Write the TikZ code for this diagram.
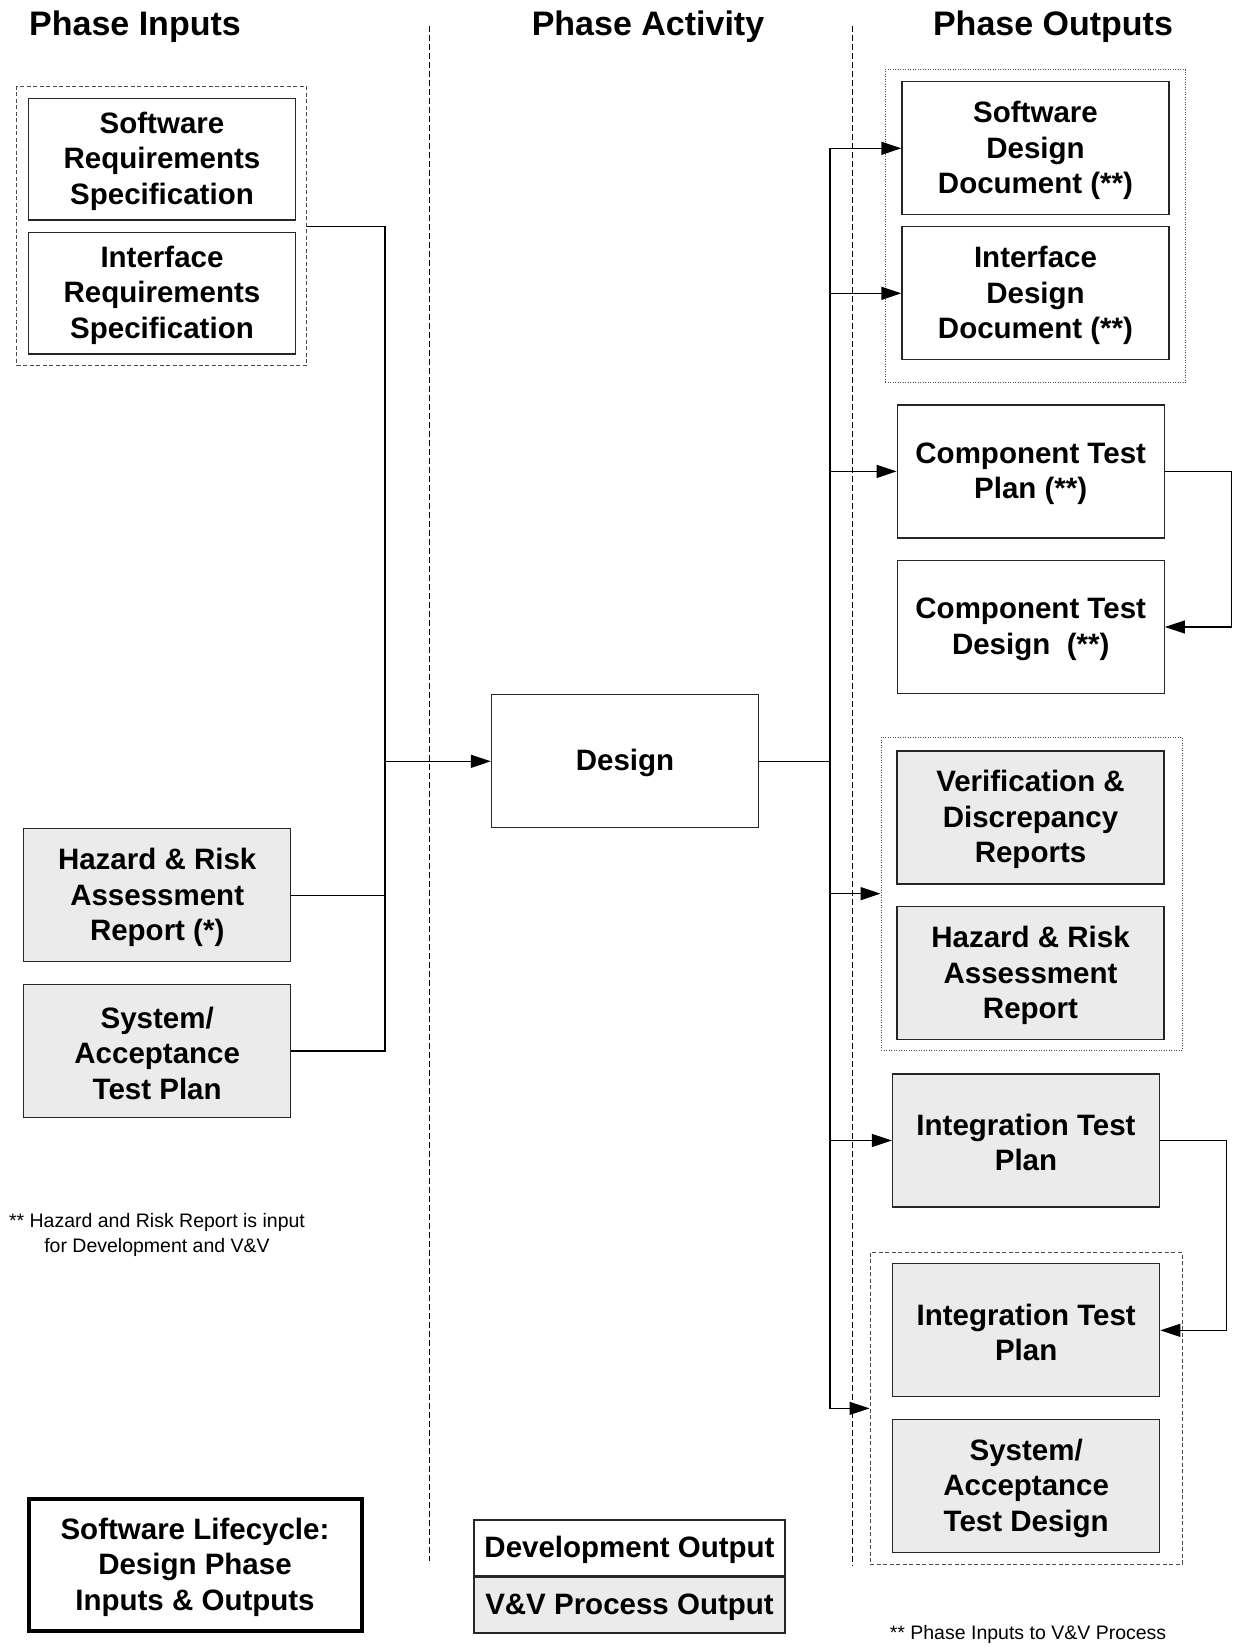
\documentclass[tikz,border=0pt]{standalone}
\usepackage{fontspec}
\setmainfont{Liberation Sans}
\usetikzlibrary{arrows.meta,positioning}

% strut that sets the height of the first text line in every box
\newcommand{\topline}{\rule{0pt}{25.6pt}}

\tikzset{
  boxtext/.style={font=\bfseries\fontsize{29.5}{35.5}\selectfont, align=center},
  devbox/.style={boxtext, draw=black!85, line width=1.3pt, inner sep=0pt,
                 minimum width=267pt, minimum height=133pt},
  vvbox/.style={devbox, fill=black!8},
  grpdash/.style={draw=black!70, line width=1pt, dash pattern=on 4pt off 2.5pt},
  grpdot/.style={draw=black!70, line width=1pt, dash pattern=on 1pt off 1.5pt},
  divider/.style={draw=black, line width=1pt, dash pattern=on 6pt off 3pt},
  conn/.style={draw=black, line width=1.3pt},
  arr/.style={conn, -{Triangle[length=20pt,width=13pt]}},
  header/.style={font=\bfseries\fontsize{34}{40}\selectfont, anchor=base},
  note/.style={font=\fontsize{19.5}{25}\selectfont, align=center}
}

\begin{document}
\begin{tikzpicture}[x=1pt,y=-1pt]
\useasboundingbox[fill=white] (0,0) rectangle (1233,1648);

% column headers
\node[header] (hin)  at (135,35.5) {Phase Inputs};
\node[header] (hact) at (648,35.5) {Phase Activity};
\node[header] (hout) at (1053,35.5) {Phase Outputs};

% column dividers
\draw[divider] (429,26) -- (429,1561);
\draw[divider] (852,26) -- (852,1566);

% ---- inputs ----
\node[devbox, minimum height=121.7pt] (srs) at (162,159.2) {\topline Software\\Requirements\\Specification};
\node[devbox, minimum height=121.7pt] (irs) at (162,293.2) {\topline Interface\\Requirements\\Specification};
\node[grpdash, minimum width=290pt, minimum height=279pt, inner sep=0pt] (lgrp) at (161.7,226.2) {};
\node[vvbox] (hzin) at (157.2,895.3) {\topline Hazard \& Risk\\Assessment\\Report (*)};
\node[vvbox] (satin) at (157.2,1051) {\topline System/\\Acceptance\\Test Plan};

\node[note] (fnl) at (157,1234.5) {** Hazard and Risk Report is input\\for Development and V\&V};

% ---- activity ----
\node[devbox] (design) at (625,761.3) {\topline Design};

% ---- outputs ----
\node[devbox] (sdd) at (1035.5,148.3) {\topline Software\\Design\\Document (**)};
\node[devbox] (idd) at (1035.5,293.3) {\topline Interface\\Design\\Document (**)};
\node[grpdot, minimum width=300.7pt, minimum height=312.3pt, inner sep=0pt] (ogrp1) at (1035.35,226.15) {};

\node[devbox] (ctp) at (1030.7,471.4) {\topline Component Test\\Plan (**)};
\node[devbox] (ctd) at (1030.7,627) {\topline Component Test\\Design~~(**)};

\node[vvbox] (vdr) at (1030.5,817.5) {\topline Verification \&\\Discrepancy\\Reports};
\node[vvbox] (hzout) at (1030.5,973.3) {\topline Hazard \& Risk\\Assessment\\Report};
\node[grpdot, minimum width=301.3pt, minimum height=312.7pt, inner sep=0pt] (ogrp2) at (1031.65,893.65) {};

\node[vvbox] (itp) at (1026,1140.5) {\topline Integration Test\\Plan};
\node[vvbox] (itpb) at (1026.2,1330.3) {\topline Integration Test\\Plan};
\node[vvbox] (satd) at (1026.2,1486.3) {\topline System/\\Acceptance\\Test Design};
\node[grpdash, minimum width=312.3pt, minimum height=311.3pt, inner sep=0pt] (ogrp3) at (1026.15,1408.35) {};

\node[note] (fnr) at (1028,1634) {** Phase Inputs to V\&V Process};

% ---- title and legend ----
\node[boxtext, draw=black, line width=4pt, minimum width=333pt, minimum height=131.5pt, inner sep=0pt] (title) at (195,1564.8) {\topline Software Lifecycle:\\Design Phase\\Inputs \& Outputs};
\node[boxtext, draw=black!85, line width=1.3pt, minimum width=311pt, minimum height=55.8pt, inner sep=0pt] (legdev) at (629.5,1548) {\topline Development Output};
\node[boxtext, draw=black!85, fill=black!8, line width=1.3pt, minimum width=311pt, minimum height=55.8pt, inner sep=0pt, below=0pt of legdev] (legvv) {\topline V\&V Process Output};

% ---- connectors: inputs to design ----
\coordinate (lbus) at (385,761.3);
\draw[conn] (lgrp.east) -| (lbus);
\draw[conn] (hzin.east) -| (lbus);
\draw[conn] (satin.east) -| (lbus);
\draw[arr] (lbus) -- (design.west);

% ---- connectors: design to outputs ----
\coordinate (rbus) at (830,761.3);
\draw[conn] (design.east) -- (rbus);
\draw[arr] (rbus) |- (sdd.west);
\draw[arr] (rbus) |- (idd.west);
\draw[arr] (rbus) |- (ctp.west);
\draw[arr] (rbus) |- (ogrp2.west);
\draw[arr] (rbus) |- (itp.west);
\draw[arr] (rbus) |- (ogrp3.west);

% ---- feed-forward loops on the right ----
\coordinate (loopa) at (1231.5,471.4);
\coordinate (loopb) at (1226.8,1140.5);
\draw[arr] (ctp.east) -- (loopa) |- (ctd.east);
\draw[arr] (itp.east) -- (loopb) |- (itpb.east);
\end{tikzpicture}
\end{document}
